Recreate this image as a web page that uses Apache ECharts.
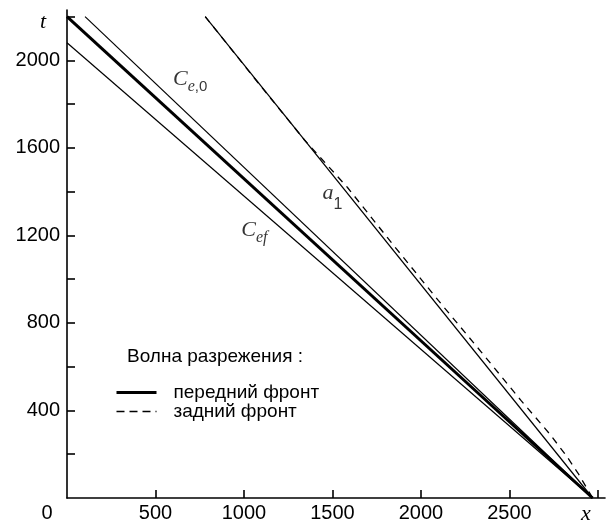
<!DOCTYPE html>
<html>
<head>
<meta charset="utf-8">
<script src="https://cdn.jsdelivr.net/npm/echarts@6/dist/echarts.min.js"></script>
<style>html,body{margin:0;padding:0;background:#fff}#c{width:607px;height:528px}</style>
</head>
<body>
<div id="c"></div>
<script>
// ---- data (x, t) ----
const headFront = [[0, 2200], [2970, 0]];            // передний фронт (thick)
const tailFront = [[781, 2200], [1100, 1877], [1342, 1636], [1585, 1419], [1840, 1160],
                   [2098, 903], [2340, 668], [2565, 446], [2724, 296], [2820, 195], [2888, 113], [2970, 0]]; // задний фронт (dashed)
const lineCe0 = [[102, 2200], [2970, 0]];
const lineCef = [[0, 2080], [2970, 0]];
const lineA1 = [[781, 2200], [2970, 0]];
const xTickValues = [500, 1000, 1500, 2000, 2500, 3000];
const xLabelValues = [0, 500, 1000, 1500, 2000, 2500, 3000];
const yTickValues = [200, 400, 600, 800, 1000, 1200, 1400, 1600, 1800, 2000, 2200];
const yLabelValues = [400, 800, 1200, 1600, 2000, 2200];
const annotations = [[696, 1903, 'ce0'], [1500, 1373, 'a1'], [1059, 1214, 'cef']];
const legendTitle = 'Волна разрежения :';
const names = ['передний фронт', 'задний фронт'];

const chart = echarts.init(document.getElementById('c'), null, {renderer: 'canvas'});
const sans = '"Liberation Sans", Arial, sans-serif';
const serif = '"Liberation Serif", "DejaVu Serif", serif';
const thin = (data) => ({type: 'line', data, symbol: 'none', silent: true,
  itemStyle: {color: '#000'}, lineStyle: {color: '#000', width: 1.2}, z: 2});

chart.setOption({
  animation: false,
  backgroundColor: '#fff',
  title: {text: legendTitle, left: 127, top: 347, padding: 0,
    textStyle: {fontFamily: sans, fontSize: 19, fontWeight: 'normal', color: '#000'}},
  legend: {data: [
      {name: names[0], lineStyle: {color: '#000', width: 3, type: 'solid'}},
      {name: names[1], lineStyle: {color: '#000', width: 1.4, type: [8, 5]}}],
    orient: 'vertical', left: 115, top: 383, padding: 0,
    itemWidth: 40, itemHeight: 14, itemGap: 0,
    itemStyle: {opacity: 0},
    textStyle: {fontFamily: sans, fontSize: 19, color: '#000', padding: [0, 0, 0, 12]}},
  grid: {left: 67, right: 2, top: 10, bottom: 30, containLabel: false},
  xAxis: {type: 'value', min: 0, max: 3040,
    axisLine: {lineStyle: {color: '#000', width: 1.6}},
    axisTick: {inside: true, length: 8, customValues: xTickValues, lineStyle: {color: '#000', width: 1.6}},
    splitLine: {show: false},
    axisLabel: {customValues: xLabelValues, margin: 5, color: '#000', fontFamily: sans, fontSize: 20,
      formatter: v => v === 0 ? '{o|0}' : (v === 3000 ? '{x|x}' : String(v)),
      rich: {o: {fontFamily: sans, fontSize: 20, color: '#000', padding: [0, 40, 0, 0]},
             x: {fontFamily: serif, fontStyle: 'italic', fontSize: 22, color: '#000', padding: [0, 24, 0, 0]}}}},
  yAxis: {type: 'value', min: 0, max: 2230,
    axisLine: {lineStyle: {color: '#000', width: 1.6}},
    axisTick: {inside: true, length: 8, customValues: yTickValues, lineStyle: {color: '#000', width: 1.6}},
    splitLine: {show: false},
    axisLabel: {customValues: yLabelValues, margin: 7, color: '#000', fontFamily: sans, fontSize: 20,
      formatter: v => v === 2200 ? '{t|t}' : String(v),
      rich: {t: {fontFamily: serif, fontStyle: 'italic', fontSize: 22, color: '#000', padding: [12, 14, 0, 0]}}}},
  series: [
    {name: names[0], type: 'line', data: headFront, symbol: 'none', silent: true,
      itemStyle: {color: '#000'}, lineStyle: {color: '#000', width: 3}, z: 3},
    {name: names[1], type: 'line', data: tailFront, symbol: 'none', silent: true,
      itemStyle: {color: '#000'}, lineStyle: {color: '#000', width: 1.3, type: [7, 6]}, z: 3},
    thin(lineCe0), thin(lineCef), thin(lineA1),
    {type: 'scatter', symbolSize: 0, silent: true, z: 5, itemStyle: {color: '#000'},
      data: annotations.map(a => ({value: [a[0], a[1]], lbl: a[2]})),
      label: {show: true, position: 'inside', color: '#000',
        formatter: p => ({ce0: '{c|C}{si|e}{s|,0}', a1: '{a|a}{n|1}', cef: '{c|C}{si|ef}'})[p.data.lbl],
        rich: {
          c: {fontFamily: serif, fontStyle: 'italic', fontSize: 22, color: '#000', lineHeight: 26, verticalAlign: 'top'},
          a: {fontFamily: serif, fontStyle: 'italic', fontSize: 22, color: '#000', lineHeight: 26, verticalAlign: 'top'},
          si: {fontFamily: serif, fontStyle: 'italic', fontSize: 16, color: '#000', lineHeight: 26, verticalAlign: 'bottom'},
          s: {fontFamily: sans, fontSize: 15, color: '#000', lineHeight: 26, verticalAlign: 'bottom'},
          n: {fontFamily: sans, fontSize: 16, color: '#000', lineHeight: 30, verticalAlign: 'bottom'}
        }}}
  ]
});
</script>
</body>
</html>
